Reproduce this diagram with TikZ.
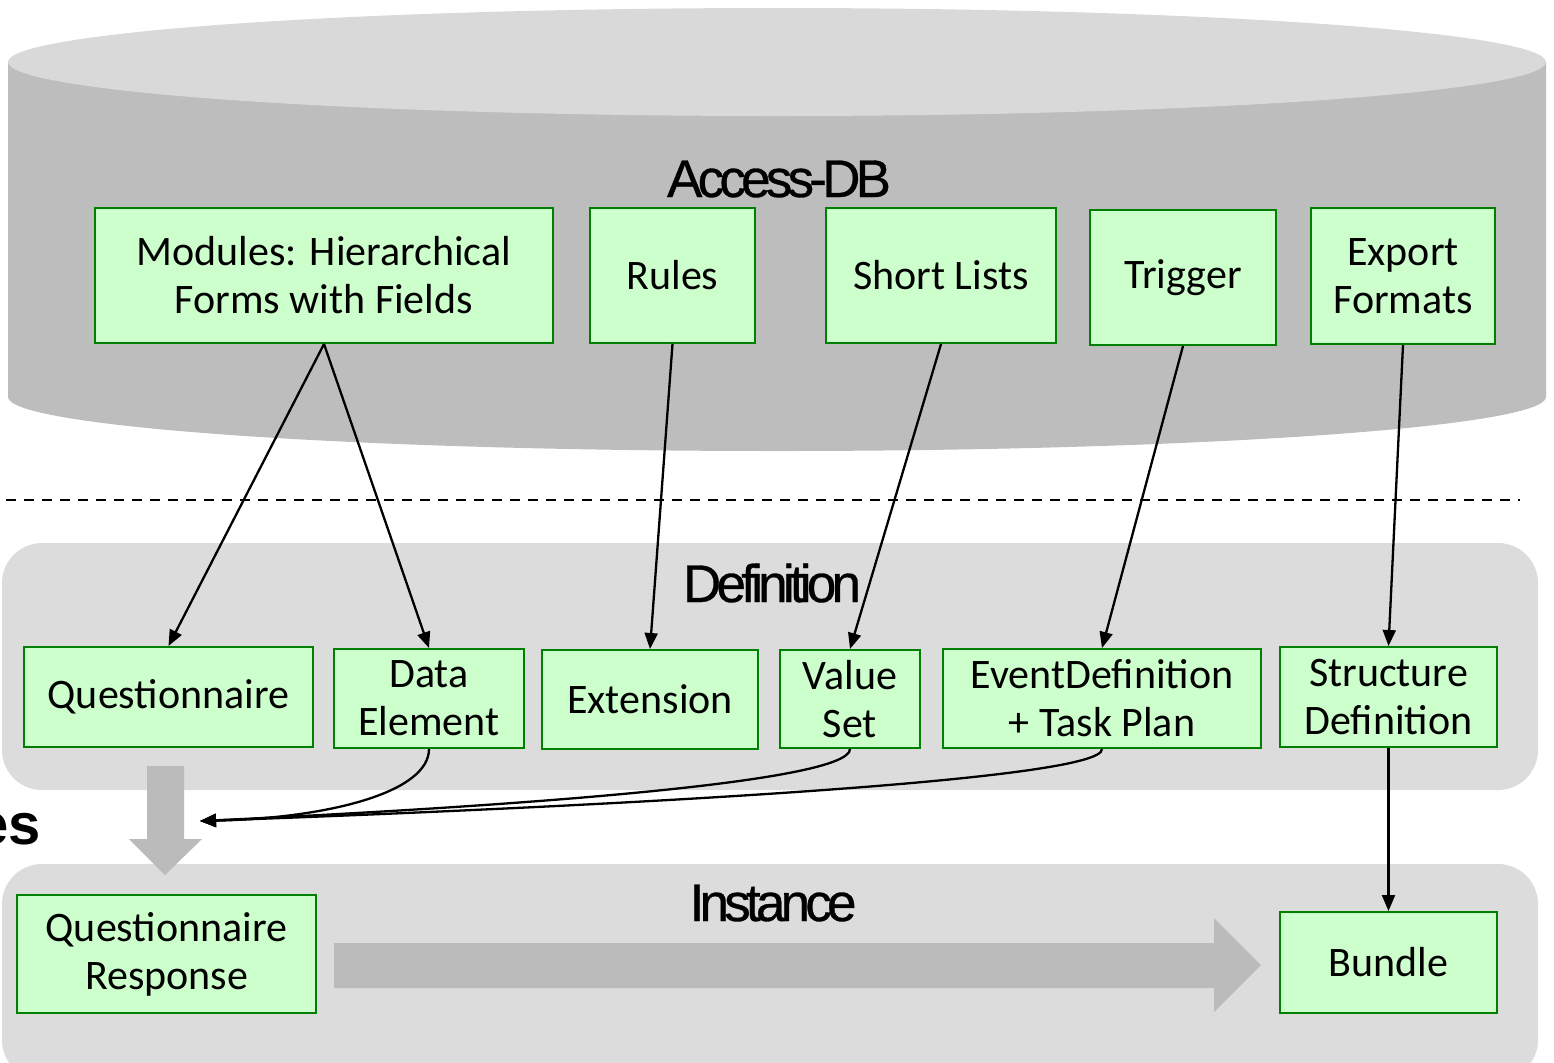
\documentclass[tikz,border=0pt]{standalone}
\usepackage{fontspec}
\setmainfont{Carlito}
\newfontfamily\titlefont{Liberation Sans}[LetterSpace=-9,FakeBold=0.6]
\newfontfamily\esfont{Liberation Sans}
\usetikzlibrary{arrows.meta}
\definecolor{boxfill}{HTML}{CCFFCC}
\definecolor{boxline}{HTML}{008000}
\definecolor{cyltop}{HTML}{D9D9D9}
\definecolor{cylside}{HTML}{BDBDBD}
\definecolor{panel}{HTML}{DCDCDC}
\definecolor{bigarrow}{HTML}{BBBBBB}
\begin{document}
\begin{tikzpicture}[x=0.5pt,y=-0.5pt,
  box/.style={draw=boxline,fill=boxfill,line width=1pt,align=center,inner sep=0pt,
    font=\fontsize{21}{24}\selectfont},
  conn/.style={line width=1.15pt,-{Triangle[length=8pt,width=6.5pt]}},
  title/.style={font=\titlefont\fontsize{26.5}{30}\selectfont,inner sep=0pt,anchor=base}]
\useasboundingbox (0,0) rectangle (1554,1062);
% cylinder
\fill[cylside] (8,62) -- (8,397) arc[start angle=180,end angle=0,x radius=769,y radius=54] -- (1546,62) -- cycle;
\fill[cyltop] (777,62) ellipse[x radius=769,y radius=54];
% panels
\fill[panel,rounded corners=20pt] (2,543) rectangle (1538,790);
\fill[panel,rounded corners=20pt] (2,864) rectangle (1538,1080);
% dashed line
\draw[line width=1.15pt,dash pattern=on 5pt off 4pt] (6,500) -- (1520,500);
% titles
\node[title] (tdb) at (779,197) {Access-DB};
\node[title] (tdef) at (772,602) {Definition};
\node[title] (tinst) at (773,921) {Instance};
\node[font=\esfont\bfseries\fontsize{29}{32}\selectfont,inner sep=0pt,anchor=base east] (es) at (41,844) {es};
% big gray arrows
\fill[bigarrow] (147,766) -- (184,766) -- (184,839) -- (202,839) -- (165,875) -- (129,839) -- (147,839) -- cycle;
\fill[bigarrow] (334,943) -- (1214,943) -- (1214,918) -- (1261,965) -- (1214,1012) -- (1214,988) -- (334,988) -- cycle;
% top row
\node[box,minimum width=229pt,minimum height=67.5pt] (mod) at (324,275.5) {Modules: Hierarchical\\Forms with Fields};
\node[box,minimum width=82.5pt,minimum height=67.5pt] (rules) at (672.5,275.5) {Rules};
\node[box,minimum width=115pt,minimum height=67.5pt] (short) at (941,275.5) {Short Lists};
\node[box,minimum width=93pt,minimum height=67.5pt] (trig) at (1183,277.5) {Trigger};
\node[box,minimum width=92pt,minimum height=68pt] (exp) at (1403,276) {Export\\Formats};
% middle row
\node[box,minimum width=144.5pt,minimum height=50pt] (quest) at (168.5,697) {Questionnaire};
\node[box,minimum width=95pt,minimum height=49.5pt] (de) at (429,698.5) {Data\\Element};
\node[box,minimum width=108pt,minimum height=49.5pt] (ext) at (650,699.5) {Extension};
\node[box,minimum width=70pt,minimum height=49pt] (vs) at (850,699) {Value\\Set};
\node[box,minimum width=159pt,minimum height=49.5pt] (ev) at (1102,698.5) {EventDefinition\\+ Task Plan};
\node[box,minimum width=108.5pt,minimum height=50pt] (sd) at (1388.5,697) {Structure\\Definition};
% bottom row
\node[box,minimum width=149.5pt,minimum height=59pt] (qr) at (166.5,954) {Questionnaire\\Response};
\node[box,minimum width=108.5pt,minimum height=50.5pt] (bundle) at (1388.5,962.5) {Bundle};
% connectors
\coordinate (merge) at (200,821);
\draw[conn] (mod.south) -- (quest.north);
\draw[conn] (mod.south) -- (de.north);
\draw[conn] (rules.south) -- (ext.north);
\draw[conn] (short.south) -- (vs.north);
\draw[conn] (trig.south) -- (ev.north);
\draw[conn] (exp.south) -- (sd.north);
\draw[conn] (sd.south) -- (bundle.north);
\draw[conn] (de.south) .. controls (429,792) and (330,818) .. (merge);
\draw[conn] (vs.south) .. controls (850,782) and (520,806) .. (merge);
\draw[conn] (ev.south) .. controls (1104,780) and (620,806) .. (merge);
\end{tikzpicture}
\end{document}
